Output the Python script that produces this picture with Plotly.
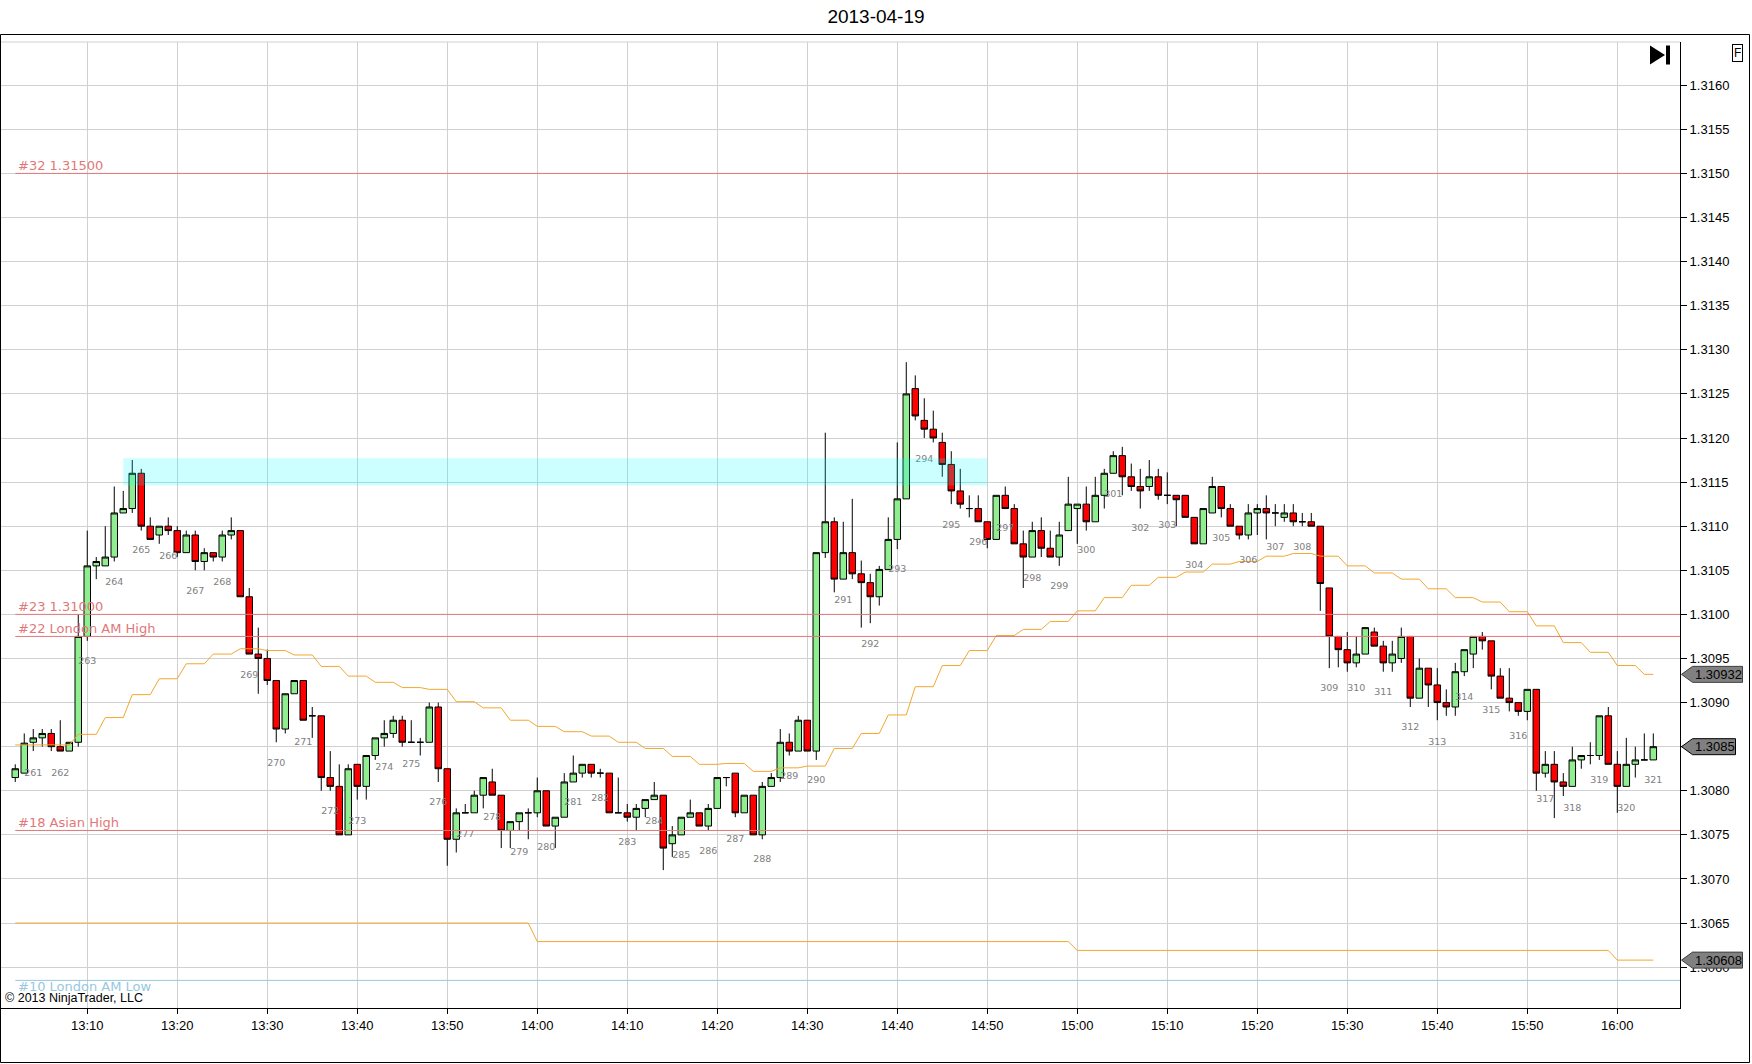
import numpy as np
import pandas as pd
import plotly.graph_objects as go

day = "2013-04-19"
first_bar = "13:02"

# 1-minute OHLC, 13:02 .. 16:04
opens = [
    1.30815, 1.30820, 1.30855, 1.30860, 1.30865, 1.30850, 1.30845, 1.30855,  # 13:02-13:09
    1.30975, 1.31055, 1.31055, 1.31065, 1.31115, 1.31120, 1.31160, 1.31100, 1.31090, 1.31100,  # 13:10
    1.31095, 1.31070, 1.31090, 1.31060, 1.31070, 1.31065, 1.31090, 1.31095, 1.31020, 1.30955,  # 13:20
    1.30950, 1.30925, 1.30870, 1.30910, 1.30925, 1.30885, 1.30885, 1.30815, 1.30805, 1.30750,  # 13:30
    1.30830, 1.30805, 1.30840, 1.30860, 1.30865, 1.30880, 1.30855, 1.30855, 1.30855, 1.30895,  # 13:40
    1.30825, 1.30745, 1.30775, 1.30775, 1.30795, 1.30810, 1.30795, 1.30755, 1.30765, 1.30775,  # 13:50
    1.30775, 1.30800, 1.30760, 1.30770, 1.30810, 1.30820, 1.30830, 1.30820, 1.30820, 1.30775,  # 14:00
    1.30775, 1.30770, 1.30780, 1.30790, 1.30795, 1.30740, 1.30750, 1.30770, 1.30775, 1.30760,  # 14:10
    1.30780, 1.30815, 1.30820, 1.30775, 1.30795, 1.30750, 1.30805, 1.30815, 1.30855, 1.30845,  # 14:20
    1.30880, 1.30845, 1.31070, 1.31105, 1.31040, 1.31070, 1.31046, 1.31036, 1.31020, 1.31051,  # 14:30
    1.31085, 1.31131, 1.31256, 1.31220, 1.31210, 1.31195, 1.31170, 1.31140, 1.31120, 1.31120,  # 14:40
    1.31105, 1.31085, 1.31135, 1.31120, 1.31080, 1.31065, 1.31095, 1.31075, 1.31065, 1.31095,  # 14:50
    1.31120, 1.31125, 1.31105, 1.31135, 1.31160, 1.31180, 1.31156, 1.31145, 1.31145, 1.31156,  # 15:00
    1.31135, 1.31135, 1.31135, 1.31110, 1.31080, 1.31115, 1.31145, 1.31120, 1.31100, 1.31090,  # 15:10
    1.31115, 1.31120, 1.31115, 1.31110, 1.31115, 1.31105, 1.31105, 1.31100, 1.31030, 1.30975,  # 15:20
    1.30960, 1.30945, 1.30955, 1.30980, 1.30964, 1.30945, 1.30950, 1.30975, 1.30905, 1.30939,  # 15:30
    1.30920, 1.30900, 1.30895, 1.30935, 1.30955, 1.30975, 1.30970, 1.30930, 1.30905, 1.30900,  # 15:40
    1.30890, 1.30915, 1.30820, 1.30830, 1.30810, 1.30805, 1.30835, 1.30840, 1.30840, 1.30885,  # 15:50
    1.30830, 1.30805, 1.30830, 1.30835, 1.30835,  # 16:00
]
highs = [
    1.30830, 1.30865, 1.30870, 1.30870, 1.30870, 1.30880, 1.30855, 1.31000,
    1.31095, 1.31065, 1.31100, 1.31145, 1.31140, 1.31175, 1.31165, 1.31110, 1.31100, 1.31110,
    1.31100, 1.31095, 1.31095, 1.31075, 1.31070, 1.31095, 1.31110, 1.31095, 1.31030, 1.30985,
    1.30960, 1.30925, 1.30910, 1.30925, 1.30925, 1.30895, 1.30885, 1.30845, 1.30830, 1.30830,
    1.30830, 1.30840, 1.30860, 1.30880, 1.30885, 1.30885, 1.30880, 1.30860, 1.30900, 1.30900,
    1.30825, 1.30780, 1.30785, 1.30800, 1.30815, 1.30825, 1.30795, 1.30765, 1.30775, 1.30780,
    1.30815, 1.30800, 1.30770, 1.30820, 1.30840, 1.30830, 1.30830, 1.30825, 1.30820, 1.30815,
    1.30785, 1.30785, 1.30790, 1.30810, 1.30795, 1.30760, 1.30770, 1.30790, 1.30775, 1.30785,
    1.30815, 1.30815, 1.30820, 1.30795, 1.30795, 1.30810, 1.30820, 1.30870, 1.30865, 1.30885,
    1.30880, 1.31070, 1.31206, 1.31110, 1.31105, 1.31131, 1.31061, 1.31046, 1.31055, 1.31110,
    1.31195, 1.31286, 1.31271, 1.31245, 1.31231, 1.31206, 1.31185, 1.31165, 1.31135, 1.31135,
    1.31105, 1.31135, 1.31145, 1.31125, 1.31095, 1.31105, 1.31110, 1.31095, 1.31105, 1.31156,
    1.31125, 1.31145, 1.31156, 1.31165, 1.31185, 1.31190, 1.31171, 1.31165, 1.31175, 1.31165,
    1.31161, 1.31135, 1.31135, 1.31110, 1.31120, 1.31156, 1.31145, 1.31125, 1.31100, 1.31125,
    1.31125, 1.31135, 1.31125, 1.31125, 1.31125, 1.31115, 1.31115, 1.31100, 1.31030, 1.30975,
    1.30980, 1.30975, 1.30985, 1.30985, 1.30970, 1.30970, 1.30985, 1.30975, 1.30950, 1.30939,
    1.30939, 1.30915, 1.30945, 1.30960, 1.30975, 1.30980, 1.30970, 1.30939, 1.30939, 1.30900,
    1.30915, 1.30915, 1.30845, 1.30845, 1.30820, 1.30850, 1.30840, 1.30855, 1.30885, 1.30895,
    1.30845, 1.30860, 1.30850, 1.30865, 1.30865,
]
lows = [
    1.30810, 1.30820, 1.30845, 1.30850, 1.30845, 1.30845, 1.30845, 1.30850,
    1.30970, 1.31040, 1.31055, 1.31060, 1.31115, 1.31115, 1.31095, 1.31085, 1.31080, 1.31090,
    1.31065, 1.31070, 1.31050, 1.31050, 1.31060, 1.31060, 1.31085, 1.31020, 1.30955, 1.30910,
    1.30920, 1.30855, 1.30865, 1.30910, 1.30880, 1.30860, 1.30800, 1.30800, 1.30750, 1.30750,
    1.30790, 1.30790, 1.30835, 1.30850, 1.30860, 1.30850, 1.30855, 1.30840, 1.30855, 1.30810,
    1.30715, 1.30730, 1.30775, 1.30775, 1.30780, 1.30795, 1.30735, 1.30735, 1.30755, 1.30745,
    1.30770, 1.30760, 1.30735, 1.30770, 1.30810, 1.30815, 1.30815, 1.30815, 1.30775, 1.30775,
    1.30765, 1.30755, 1.30770, 1.30790, 1.30710, 1.30725, 1.30750, 1.30770, 1.30760, 1.30755,
    1.30780, 1.30805, 1.30770, 1.30775, 1.30750, 1.30745, 1.30805, 1.30810, 1.30840, 1.30845,
    1.30845, 1.30835, 1.31064, 1.31025, 1.31040, 1.31040, 1.30985, 1.30990, 1.31010, 1.31051,
    1.31074, 1.31131, 1.31220, 1.31200, 1.31195, 1.31156, 1.31125, 1.31120, 1.31110, 1.31105,
    1.31075, 1.31085, 1.31120, 1.31080, 1.31030, 1.31065, 1.31065, 1.31065, 1.31055, 1.31095,
    1.31080, 1.31095, 1.31105, 1.31120, 1.31160, 1.31135, 1.31140, 1.31120, 1.31140, 1.31130,
    1.31125, 1.31100, 1.31110, 1.31080, 1.31080, 1.31115, 1.31110, 1.31100, 1.31085, 1.31085,
    1.31090, 1.31085, 1.31100, 1.31105, 1.31100, 1.31100, 1.31100, 1.31004, 1.30939, 1.30940,
    1.30935, 1.30940, 1.30955, 1.30964, 1.30935, 1.30935, 1.30945, 1.30895, 1.30905, 1.30895,
    1.30880, 1.30885, 1.30885, 1.30930, 1.30939, 1.30960, 1.30915, 1.30905, 1.30890, 1.30885,
    1.30880, 1.30800, 1.30815, 1.30769, 1.30794, 1.30805, 1.30825, 1.30830, 1.30835, 1.30830,
    1.30775, 1.30805, 1.30815, 1.30835, 1.30835,
]
closes = [
    1.30825, 1.30854, 1.30860, 1.30865, 1.30850, 1.30845, 1.30855, 1.30975,
    1.31055, 1.31060, 1.31065, 1.31115, 1.31120, 1.31160, 1.31100, 1.31085, 1.31100, 1.31095,
    1.31070, 1.31090, 1.31060, 1.31070, 1.31065, 1.31090, 1.31095, 1.31020, 1.30955, 1.30950,
    1.30925, 1.30870, 1.30910, 1.30925, 1.30880, 1.30885, 1.30815, 1.30805, 1.30750, 1.30825,
    1.30805, 1.30840, 1.30860, 1.30865, 1.30880, 1.30855, 1.30855, 1.30855, 1.30895, 1.30825,
    1.30745, 1.30775, 1.30775, 1.30795, 1.30815, 1.30795, 1.30755, 1.30765, 1.30775, 1.30775,
    1.30800, 1.30760, 1.30770, 1.30810, 1.30820, 1.30830, 1.30820, 1.30820, 1.30775, 1.30775,
    1.30770, 1.30780, 1.30790, 1.30795, 1.30735, 1.30750, 1.30770, 1.30775, 1.30760, 1.30780,
    1.30815, 1.30815, 1.30775, 1.30795, 1.30750, 1.30805, 1.30815, 1.30855, 1.30845, 1.30880,
    1.30845, 1.31070, 1.31105, 1.31040, 1.31070, 1.31046, 1.31036, 1.31020, 1.31051, 1.31085,
    1.31131, 1.31250, 1.31225, 1.31210, 1.31200, 1.31170, 1.31140, 1.31125, 1.31120, 1.31105,
    1.31085, 1.31135, 1.31120, 1.31080, 1.31065, 1.31095, 1.31075, 1.31065, 1.31090, 1.31125,
    1.31125, 1.31105, 1.31135, 1.31160, 1.31180, 1.31156, 1.31145, 1.31140, 1.31156, 1.31135,
    1.31135, 1.31130, 1.31110, 1.31080, 1.31120, 1.31145, 1.31120, 1.31100, 1.31090, 1.31115,
    1.31120, 1.31115, 1.31115, 1.31115, 1.31105, 1.31105, 1.31100, 1.31035, 1.30975, 1.30960,
    1.30945, 1.30955, 1.30985, 1.30964, 1.30945, 1.30955, 1.30975, 1.30905, 1.30939, 1.30920,
    1.30900, 1.30895, 1.30935, 1.30960, 1.30975, 1.30970, 1.30930, 1.30905, 1.30900, 1.30890,
    1.30915, 1.30820, 1.30830, 1.30810, 1.30805, 1.30835, 1.30840, 1.30840, 1.30885, 1.30830,
    1.30805, 1.30830, 1.30835, 1.30835, 1.30850,
]

# orange average, one value per 3-minute block starting 13:00
avg_blocks = [
    1.30852, 1.30852, 1.30852, 1.30864, 1.30883, 1.30909, 1.30927, 1.30944, 1.30955, 1.30961,
    1.30959, 1.30954, 1.30941, 1.30930, 1.30923, 1.30917, 1.30915, 1.30901, 1.30894, 1.30880,
    1.30873, 1.30867, 1.30862, 1.30855, 1.30848, 1.30839, 1.30830, 1.30831, 1.30822, 1.30826,
    1.30828, 1.30848, 1.30865, 1.30886, 1.30918, 1.30942, 1.30959, 1.30976, 1.30983, 1.30992,
    1.31004, 1.31019, 1.31033, 1.31042, 1.31048, 1.31057, 1.31060, 1.31066, 1.31069, 1.31066,
    1.31055, 1.31047, 1.31040, 1.31029, 1.31019, 1.31014, 1.31003, 1.30987, 1.30968, 1.30957,
    1.30942, 1.30932,
]
# lower orange line, one value per hour
low_line_hours = [13, 14, 15, 16]
low_line_vals = [1.30650, 1.30629, 1.30619, 1.30608]

# 3-minute bar numbers and where their labels sit
bar_numbers = list(range(261, 322))
bar_label_prices = [
    1.30820, 1.30820, 1.30947, 1.31036, 1.31072, 1.31066, 1.31026, 1.31036, 1.30930, 1.30831,
    1.30855, 1.30776, 1.30765, 1.30826, 1.30830, 1.30786, 1.30750, 1.30770, 1.30730, 1.30736,
    1.30786, 1.30791, 1.30741, 1.30765, 1.30726, 1.30731, 1.30745, 1.30722, 1.30816, 1.30811,
    1.31016, 1.30966, 1.31051, 1.31176, 1.31101, 1.31081, 1.31097, 1.31041, 1.31031, 1.31072,
    1.31136, 1.31097, 1.31101, 1.31055, 1.31086, 1.31061, 1.31076, 1.31076, 1.30916, 1.30916,
    1.30911, 1.30872, 1.30855, 1.30906, 1.30891, 1.30861, 1.30790, 1.30780, 1.30811, 1.30780,
    1.30811,
]

level_names = ["#32 1.31500", "#23 1.31000", "#22 London AM High", "#18 Asian High"]
level_prices = [1.31500, 1.31000, 1.30975, 1.30755]
low_level_name = "#10 London AM Low"
low_level_price = 1.30585

zone_times = ["13:14", "14:50"]
zone_prices = [1.31146, 1.31177]

flag_prices = [1.30932, 1.3085, 1.30608]
flag_texts = ["1.30932", "1.3085", "1.30608"]
flag_borders = ["#404040", "#000000", "#404040"]
flag_widths = [61, 54, 61]

y_ticks = [round(1.3060 + 0.0005 * i, 4) for i in range(21)]

W, H = 1752, 1064
ML, MR, MT, MB = 1, 72, 42, 56


def px(x):
    return (x - ML) / (W - ML - MR)


def py(y):
    return (H - MB - y) / (H - MT - MB)


t = pd.date_range(f"{day} {first_bar}", periods=len(opens), freq="1min")
minute_of_day = t.hour * 60 + t.minute
avg_line = np.array(avg_blocks)[(minute_of_day - 13 * 60) // 3]
low_line = [low_line_vals[low_line_hours.index(h)] for h in t.hour]
label_times = [pd.Timestamp(day) + pd.Timedelta(minutes=3 * n + 1) for n in bar_numbers]

# the last-price flag sits on top of its own tick label
y_ticktext = ["" if f"{v:.4f}".rstrip("0") in flag_texts else f"{v:.4f}" for v in y_ticks]

orange = "rgb(242,168,45)"
red_line = "rgb(225,120,120)"
blue_line = "rgb(150,200,225)"

fig = go.Figure()

fig.add_trace(go.Scatter(x=t, y=avg_line, mode="lines",
                         line=dict(color=orange, width=1), hoverinfo="skip"))
fig.add_trace(go.Scatter(x=t, y=low_line, mode="lines",
                         line=dict(color=orange, width=1), hoverinfo="skip"))

fig.add_trace(go.Candlestick(
    x=t, open=opens, high=highs, low=lows, close=closes,
    increasing=dict(fillcolor="#90EE90", line=dict(color="black", width=1)),
    decreasing=dict(fillcolor="#FF0000", line=dict(color="black", width=1)),
    whiskerwidth=0,
))

fig.add_trace(go.Scatter(x=label_times, y=bar_label_prices, mode="text",
                         text=[str(n) for n in bar_numbers],
                         textfont=dict(family="DejaVu Sans", size=9.5, color="#808080"),
                         hoverinfo="skip"))

x_end = pd.Timestamp(f"{day} 16:06:58")
shapes = []
annotations = []

# key levels
for name, price in zip(level_names, level_prices):
    shapes.append(dict(type="line", xref="x", yref="y", x0=t[0], x1=x_end, y0=price, y1=price,
                       line=dict(color=red_line, width=1)))
    annotations.append(dict(x=t[0], y=price, xref="x", yref="y", text=name, showarrow=False,
                            xanchor="left", yanchor="bottom", xshift=1, yshift=-2,
                            font=dict(family="DejaVu Sans", size=13, color=red_line)))
shapes.append(dict(type="line", xref="x", yref="y", x0=t[0], x1=x_end,
                   y0=low_level_price, y1=low_level_price, line=dict(color=blue_line, width=1)))
annotations.append(dict(x=t[0], y=low_level_price, xref="x", yref="y", text=low_level_name,
                        showarrow=False, xanchor="left", yanchor="top", xshift=1, yshift=3,
                        font=dict(family="DejaVu Sans", size=13, color=blue_line)))

# cyan zone
shapes.append(dict(type="rect", xref="x", yref="y", layer="above",
                   x0=pd.Timestamp(f"{day} {zone_times[0]}"), x1=pd.Timestamp(f"{day} {zone_times[1]}"),
                   y0=zone_prices[0], y1=zone_prices[1],
                   fillcolor="rgba(0,255,255,0.2)", line=dict(width=0)))

# price flags on the axis
for price, txt, bc, fw in zip(flag_prices, flag_texts, flag_borders, flag_widths):
    shapes.append(dict(type="path", xref="paper", yref="y", layer="above",
                       xsizemode="pixel", xanchor=px(1681.5),
                       ysizemode="pixel", yanchor=price,
                       path=f"M0,0 L11,8 L{fw},8 L{fw},-8 L11,-8 Z",
                       fillcolor="#808080", line=dict(color=bc, width=1)))
    annotations.append(dict(x=px(1681.5 + (11 + fw) / 2 + 1), y=price, xref="paper", yref="y",
                            text=txt, showarrow=False, xanchor="center", yanchor="middle",
                            font=dict(family="Liberation Sans, Arial", size=13, color="black")))

# outer frame, top edge of the plot, icons
shapes.append(dict(type="rect", xref="paper", yref="paper", layer="above",
                   x0=px(0.5), x1=px(1749.5), y0=py(1062.5), y1=py(34.5),
                   line=dict(color="black", width=1)))
shapes.append(dict(type="line", xref="paper", yref="paper", x0=0, x1=1, y0=1, y1=1,
                   line=dict(color="#D0D0D0", width=1)))
shapes.append(dict(type="path", xref="paper", yref="paper", layer="above",
                   path=f"M{px(1650)},{py(45.5)} L{px(1665)},{py(55)} L{px(1650)},{py(64.5)} Z",
                   fillcolor="black", line=dict(width=0)))
shapes.append(dict(type="rect", xref="paper", yref="paper", layer="above",
                   x0=px(1666), x1=px(1670), y0=py(64.5), y1=py(45.5),
                   fillcolor="black", line=dict(width=0)))
annotations.append(dict(x=px(1743), y=py(44), xref="paper", yref="paper", text="F",
                        showarrow=False, bordercolor="black", borderwidth=1, borderpad=1,
                        bgcolor="white", font=dict(family="Liberation Sans, Arial", size=12, color="black")))

annotations.append(dict(x=px(3), y=py(1007), xref="paper", yref="paper",
                        text="© 2013 NinjaTrader, LLC", showarrow=False,
                        xanchor="left", yanchor="bottom",
                        font=dict(family="Liberation Sans, Arial", size=12.5, color="black")))

fig.update_layout(
    width=W, height=H,
    margin=dict(l=ML, r=MR, t=MT, b=MB),
    paper_bgcolor="white", plot_bgcolor="white",
    showlegend=False,
    boxgap=0.15, boxgroupgap=0.15,
    title=dict(text=day, x=px(876), xref="paper", xanchor="center", y=1 - 16 / H, yanchor="middle",
               font=dict(family="Liberation Sans, Arial", size=19, color="black")),
    shapes=shapes, annotations=annotations,
    font=dict(family="Liberation Sans, Arial", size=13, color="black"),
)

fig.update_xaxes(
    type="date", range=[pd.Timestamp(f"{day} 13:00:25"), x_end],
    rangeslider_visible=False,
    tick0=f"{day} 13:00", dtick=600000, tickformat="%H:%M",
    showgrid=True, gridcolor="#D0D0D0", gridwidth=1,
    showline=True, linecolor="black", linewidth=1,
    ticks="outside", ticklen=5, tickcolor="black",
    tickfont=dict(size=13), zeroline=False,
)
fig.update_yaxes(
    side="right", range=[1.305537, 1.31649],
    tickmode="array", tickvals=y_ticks, ticktext=y_ticktext,
    showgrid=True, gridcolor="#D0D0D0", gridwidth=1,
    showline=True, linecolor="black", linewidth=1,
    ticks="outside", ticklen=6, tickcolor="black",
    tickfont=dict(size=13), zeroline=False,
)

fig.write_html("out.html", config={"displayModeBar": False},
               post_script="document.body.style.margin='0';")
